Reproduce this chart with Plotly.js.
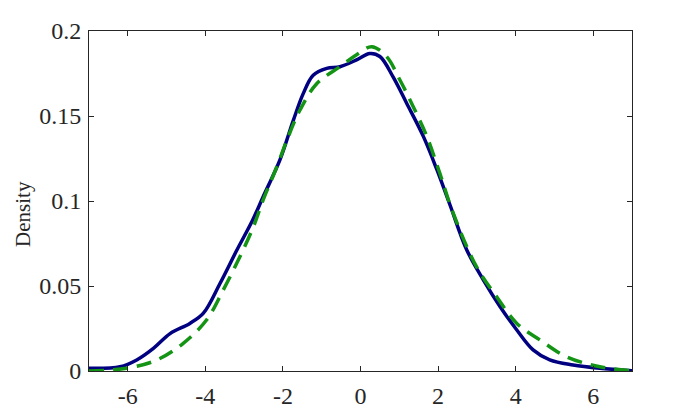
<!DOCTYPE html>
<html>
<head>
<meta charset="utf-8">
<script src="https://cdn.plot.ly/plotly-3.0.1.min.js"></script>
<style>
  body { margin: 0; background: #fff; }
  #plot { width: 699px; height: 418px; }
</style>
</head>
<body>
<div id="plot"></div>
<script>
// Densidad estimada (línea continua)
const xEstimada = [-7, -6.2, -5.77, -5.34, -4.91, -4.4, -4.05, -3.62, -3.19, -2.78, -2.51, -2.08, -1.73, -1.48, -1.22, -0.87, -0.53, -0.1, 0.24, 0.5, 0.84, 1.19, 1.62, 1.96, 2.31, 2.74, 3.17, 3.6, 4.03, 4.45, 4.88, 5.48, 6.17, 7];
const yEstimada = [0.0016, 0.0025, 0.0065, 0.0133, 0.022, 0.028, 0.034, 0.0516, 0.071, 0.0888, 0.1025, 0.124, 0.1476, 0.163, 0.174, 0.178, 0.179, 0.183, 0.1868, 0.185, 0.173, 0.1575, 0.138, 0.119, 0.0975, 0.0712, 0.0535, 0.0378, 0.0241, 0.0124, 0.0065, 0.0035, 0.0016, 0.0002];

// Densidad de referencia (línea discontinua)
const xReferencia = [-7, -6.03, -5.25, -4.57, -3.97, -3.54, -3.11, -2.76, -2.51, -2.16, -1.86, -1.56, -1.13, -0.53, -0.1, 0.29, 0.67, 1.02, 1.36, 1.71, 2.05, 2.39, 2.99, 3.51, 4.03, 4.63, 5.31, 6.17, 7];
const yReferencia = [0, 0.0016, 0.0065, 0.0163, 0.03, 0.0476, 0.0672, 0.0849, 0.1006, 0.12, 0.138, 0.1535, 0.169, 0.179, 0.186, 0.1908, 0.185, 0.171, 0.1555, 0.138, 0.116, 0.0928, 0.0614, 0.0437, 0.028, 0.0182, 0.0084, 0.0025, 0.0002];

const ticksX = [-6, -4, -2, 0, 2, 4, 6];
const etiquetasX = ['-6', '-4', '-2', '0', '2', '4', '6'];
const ticksY = [0, 0.05, 0.1, 0.15, 0.2];
const etiquetasY = ['0', '0.05', '0.1', '0.15', '0.2'];

const fuenteTicks = { family: '"Liberation Serif", "Times New Roman", serif', size: 24, color: '#262626' };
const fuenteTitulo = { family: '"Liberation Serif", "Times New Roman", serif', size: 21, color: '#262626' };

const data = [
  {
    x: xEstimada, y: yEstimada,
    type: 'scatter', mode: 'lines',
    line: { color: '#000080', width: 3.5, shape: 'spline', smoothing: 1 },
    hoverinfo: 'skip'
  },
  {
    x: xReferencia, y: yReferencia,
    type: 'scatter', mode: 'lines',
    line: { color: '#149414', width: 3.5, shape: 'spline', smoothing: 1, dash: '15px,9px' },
    hoverinfo: 'skip'
  }
];

const layout = {
  width: 699, height: 418,
  margin: { l: 89, r: 67, t: 31, b: 47 },
  paper_bgcolor: '#fff',
  plot_bgcolor: '#fff',
  showlegend: false,
  font: fuenteTicks,
  xaxis: {
    range: [-7, 7],
    tickvals: ticksX, ticktext: etiquetasX,
    ticks: 'inside', ticklen: 5, tickcolor: '#262626',
    showline: true, linecolor: '#262626', linewidth: 1, mirror: 'ticks',
    showgrid: false, zeroline: false,
    tickfont: fuenteTicks, ticklabelstandoff: 3
  },
  yaxis: {
    range: [0, 0.2],
    tickvals: ticksY, ticktext: etiquetasY,
    ticks: 'inside', ticklen: 5, tickcolor: '#262626',
    showline: true, linecolor: '#262626', linewidth: 1, mirror: 'ticks',
    showgrid: false, zeroline: false,
    tickfont: fuenteTicks, ticklabelstandoff: 2
  },
  // Título del eje Y como anotación para poder ubicarlo igual que en el original
  annotations: [{
    text: 'Density', textangle: -90,
    xref: 'paper', yref: 'paper', x: -0.1215, y: 0.462,
    xanchor: 'center', yanchor: 'middle', showarrow: false,
    font: fuenteTitulo
  }]
};

Plotly.newPlot('plot', data, layout, { staticPlot: true });
</script>
</body>
</html>
